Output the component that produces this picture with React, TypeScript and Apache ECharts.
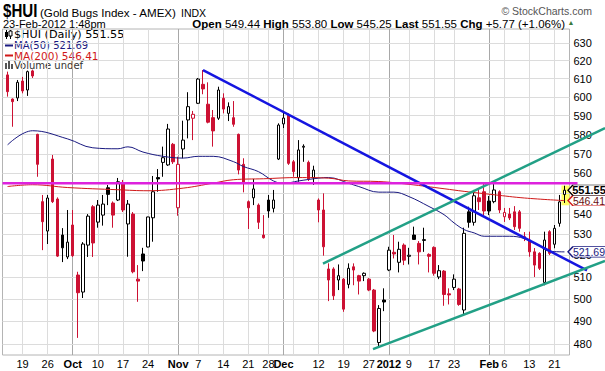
import { useEffect, useRef } from 'react';
import * as echarts from 'echarts';

// ---------- data ----------
const dates = [
  '9/14','9/15','9/16','9/19','9/20','9/21','9/22','9/23','9/26','9/27','9/28','9/29','9/30',
  '10/3','10/4','10/5','10/6','10/7','10/10','10/11','10/12','10/13','10/14','10/17','10/18','10/19','10/20','10/21','10/24','10/25','10/26','10/27','10/28','10/31',
  '11/1','11/2','11/3','11/4','11/7','11/8','11/9','11/10','11/11','11/14','11/15','11/16','11/17','11/18','11/21','11/22','11/23','11/25','11/28','11/29','11/30',
  '12/1','12/2','12/5','12/6','12/7','12/8','12/9','12/12','12/13','12/14','12/15','12/16','12/19','12/20','12/21','12/22','12/23','12/27','12/28','12/29','12/30',
  '1/3','1/4','1/5','1/6','1/9','1/10','1/11','1/12','1/13','1/17','1/18','1/19','1/20','1/23','1/24','1/25','1/26','1/27','1/30','1/31',
  '2/1','2/2','2/3','2/6','2/7','2/8','2/9','2/10','2/13','2/14','2/15','2/16','2/17','2/21','2/22','2/23'
];

const open = [
  612.1,598.9,599.5,608.7,603.8,614.3,580.1,545.9,531.6,567.3,547.2,529.7,519.3,
  534.5,510.9,503.1,524.9,543.4,535.9,539.3,552.8,545.2,546.7,555.0,535.0,539.8,509.0,520.7,524.0,538.0,557.9,565.6,564.3,574.9,
  542.9,572.5,587.7,588.6,596.6,606.9,596.1,588.9,588.6,599.3,591.2,588.9,580.1,564.6,545.9,547.8,544.2,529.7,546.7,542.6,567.3,
  585.6,590.3,565.9,557.8,573.4,565.6,557.8,546.7,541.8,513.7,513.7,508.6,509.0,506.6,514.7,510.6,510.6,509.0,504.0,480.7,499.5,
  513.2,521.5,516.8,524.9,519.6,529.7,525.7,527.1,520.5,523.8,510.0,512.7,502.3,505.2,504.5,495.0,540.9,535.8,547.8,550.8,
  546.2,545.9,550.8,538.5,539.8,540.9,540.9,528.9,527.3,521.7,521.0,507.5,531.3,525.3,535.3,549.44
];
const high = [
  613.9,599.2,609.3,611.0,614.5,615.0,580.4,549.2,549.2,569.4,548.0,533.0,541.8,
  541.8,512.4,526.3,539.8,544.2,546.7,549.2,554.2,546.0,557.7,556.7,546.7,540.8,515.5,523.6,538.5,558.7,562.2,573.7,585.6,575.6,
  568.5,587.3,602.6,592.5,610.4,614.8,608.0,593.0,605.6,602.0,597.1,597.8,580.5,567.7,546.5,557.2,545.0,539.3,549.2,551.7,585.9,
  591.4,591.2,566.8,577.1,574.9,566.5,563.9,547.5,550.0,516.3,514.5,515.8,509.5,516.3,516.3,511.0,512.1,509.5,504.5,497.2,504.8,
  524.1,529.7,526.5,525.7,523.6,533.7,526.8,533.2,521.0,524.3,515.5,513.2,504.8,511.2,505.0,533.2,543.4,551.7,551.7,555.0,
  548.7,555.5,551.5,542.8,542.8,543.7,541.8,531.1,531.3,523.5,521.5,531.3,532.0,534.5,549.2,553.80
];
const low = [
  600.2,584.1,597.8,602.0,600.6,610.4,558.3,522.5,525.4,545.2,519.3,516.9,518.3,
  519.3,482.7,500.4,519.3,519.3,533.2,534.2,544.2,533.2,546.2,540.8,519.4,511.7,498.7,512.7,523.8,526.5,550.8,558.3,563.8,564.8,
  539.0,567.7,578.0,577.1,596.2,601.5,585.9,573.7,587.7,591.2,587.1,584.1,559.5,550.5,532.6,544.2,532.6,528.0,538.0,540.6,566.8,
  583.4,564.3,558.3,555.8,565.9,556.2,554.2,535.8,519.9,499.0,499.5,504.0,494.2,504.8,506.2,502.0,508.1,503.5,485.2,478.7,494.5,
  512.7,518.6,512.1,515.5,515.8,527.4,515.8,521.7,512.1,510.6,509.0,496.9,497.5,504.0,496.9,492.4,533.2,534.2,541.8,539.3,
  539.3,545.1,540.3,536.0,536.9,532.1,531.3,526.8,519.4,510.0,513.2,506.2,520.2,523.4,533.7,545.25
];
const close = [
  602.9,597.5,608.0,603.3,613.9,611.5,564.6,536.1,547.7,545.9,519.7,523.6,526.3,
  519.9,502.8,525.4,538.8,525.9,544.2,544.7,549.5,539.3,555.8,541.8,544.7,512.4,508.1,517.4,538.4,550.8,557.2,568.0,582.9,565.9,
  564.6,577.1,594.8,590.7,609.8,604.4,586.5,581.9,603.8,593.5,594.8,585.4,561.7,555.0,542.9,552.2,535.8,528.4,541.3,546.7,585.0,
  588.7,565.1,560.9,572.0,573.9,557.2,561.7,541.8,524.1,508.6,501.4,510.6,495.4,514.0,513.2,508.1,511.7,504.0,485.7,495.7,498.6,
  522.5,520.7,522.9,517.8,520.1,527.6,521.7,527.5,519.6,511.7,512.9,502.0,501.8,509.0,497.5,530.5,535.8,548.8,545.9,541.3,
  541.3,551.7,541.8,540.6,537.9,533.7,532.9,528.1,521.7,515.5,514.0,527.3,521.0,532.9,545.78,551.55
];

// moving averages read at sampled sessions (index into dates)
const ma50Idx = [0,5,12,17,22,24,27,31,35,38,41,45,47,50,53,55,58,62,64,68,70,74,77,80,84,87,89,91,93,95,100,103,106,108,111];
const ma50Val = [574.6,582.0,577.7,573.1,572.6,573.6,570.9,568.7,567.8,568.7,568.7,566.0,563.5,560.9,556.2,555.0,556.2,557.6,557.9,555.0,553.4,550.6,550.6,548.4,543.5,539.5,535.5,532.3,530.7,529.1,529.1,528.0,524.5,522.0,521.69];
const ma200Idx = [0,5,12,22,28,35,41,45,51,58,64,68,74,80,87,91,97,103,111];
const ma200Val = [553.4,554.3,552.9,551.8,551.3,552.6,555.1,556.8,557.3,557.9,557.6,556.2,555.9,554.5,552.3,551.0,549.3,547.7,546.41];

// trendlines: [session index, price]
const blueLine = [[38.96, 614.8], [115.49, 513.0]];
const greenUpper = [[62.87, 516.2], [119.08, 583.4]];
const greenLower = [[72.84, 477.8], [119.08, 517.4]];
const resistance = [[-1, 555.0], [113.6, 555.0]];
const highlight = [[110.4, 553.9], [112.0, 544.1]];

const yTicks = [480, 490, 500, 510, 520, 530, 540, 550, 560, 570, 580, 590, 600, 610, 620, 630];
const yTicksCovered = [550]; // tick label hidden under the last-price tag
const gridDates = ['9/19','9/26','10/3','10/10','10/17','10/24','11/1','11/7','11/14','11/21','11/28','12/1','12/5','12/12','12/19','12/27','1/3','1/9','1/17','1/23','2/1','2/6','2/13','2/21'];
const gridTexts = ['19','26','Oct','10','17','24','Nov','7','14','21','28','Dec','','12','19','27','2012','9','17','23','Feb','6','13','21'];
const monthDates = ['10/3','11/1','12/1','1/3','2/1'];

const lastPrice = 551.55;
const lastMa50 = 521.69;
const lastMa200 = 546.41;
const quoteOpen = 549.44, quoteHigh = 553.80, quoteLow = 545.25, quoteChg = 5.77, quotePct = 1.06;

// ---------- layout ----------
const LEFT = 2.5, TOP = 29, PLOT_W = 567, PLOT_H = 326;
const Y_MIN = 475.3, Y_MAX = 638.0;
const N_CAT = dates.length + 2;
const STEP = PLOT_W / (N_CAT - 1);
const WIDE_W = 605 - LEFT;
const WIDE_MAX = -1 + WIDE_W / STEP;
const TAG_X = (587 - LEFT) / STEP - 1;

const RED = '#cc1133';
const BLACK = '#000000';
const NAVY = '#1a1a80';
const MA_RED = '#d01818';
const FONT = 'Liberation Sans, Arial, sans-serif';
const LFONT = 'DejaVu Sans, Verdana, sans-serif';

export default function App() {
  const ref = useRef<HTMLDivElement>(null);
  useEffect(() => {
    if (!ref.current) return;
    const chart = echarts.init(ref.current, undefined, { renderer: 'svg' });
    const categories = ['', ...dates, ' '];
    const tickMap: Record<string, string> = {};
    gridDates.forEach((d, k) => { tickMap[d] = gridTexts[k]; });
    const monthSet = new Set(monthDates);

    const candleData: any[] = [['-', '-', '-', '-']];
    dates.forEach((_, i) => {
      const prev = i > 0 ? close[i - 1] : open[i];
      const edge = close[i] >= prev ? BLACK : RED;
      const fill = close[i] > open[i] ? '#ffffff' : edge;
      candleData.push({
        value: [open[i], close[i], low[i], high[i]],
        itemStyle: { color: fill, color0: fill, borderColor: edge, borderColor0: edge, borderColorDoji: edge },
      });
    });
    candleData.push(['-', '-', '-', '-']);

    const tag = (v: number, border: string, color: string, bold: boolean) => ({
      coord: [TAG_X, v],
      value: v.toFixed(2),
      symbol: 'path://M0,5L6,0L46,0L46,10L6,10Z',
      symbolSize: [38, 10.5],
      symbolKeepAspect: false,
      itemStyle: { color: '#ffffff', borderColor: border, borderWidth: 1 },
      label: {
        show: true, position: 'inside', offset: [2, 0], color, lineHeight: 10,
        fontSize: bold ? 11 : 10.5, fontWeight: bold ? 'bold' : 'normal', fontFamily: FONT, formatter: () => v.toFixed(2),
      },
    });

    const option: any = {
      animation: false,
      backgroundColor: '#ffffff',
      grid: [
        { left: LEFT, top: TOP, width: PLOT_W, height: PLOT_H, show: true, borderColor: '#b4b4b4', borderWidth: 1, backgroundColor: 'transparent' },
        { left: LEFT, top: TOP, width: WIDE_W, height: PLOT_H, show: false },
      ],
      xAxis: [
        {
          type: 'category', gridIndex: 0, data: categories, boundaryGap: false,
          axisLine: { show: false }, axisTick: { show: false },
          axisLabel: {
            interval: (_: number, v: string) => tickMap[v] !== undefined && tickMap[v] !== '',
            formatter: (v: string) => (monthSet.has(v) ? '{b|' + tickMap[v] + '}' : tickMap[v]),
            color: '#000', fontSize: 11, fontFamily: FONT, margin: 3,
            rich: { b: { fontWeight: 'bold', fontSize: 11, fontFamily: FONT, color: '#000' } },
          },
          splitLine: { show: true, interval: (_: number, v: string) => tickMap[v] !== undefined, lineStyle: { color: '#dcdcdc', width: 1 } },
        },
        {
          type: 'category', gridIndex: 0, data: categories, boundaryGap: false, position: 'top',
          axisLine: { show: false }, axisTick: { show: false }, axisLabel: { show: false },
          splitLine: { show: true, interval: (_: number, v: string) => monthSet.has(v), lineStyle: { color: '#a8a8a8', width: 1 } },
        },
        { type: 'value', gridIndex: 1, min: -1, max: WIDE_MAX, show: false },
      ],
      yAxis: [
        { type: 'log', gridIndex: 0, min: Y_MIN, max: Y_MAX, position: 'right', axisLine: { show: false }, axisTick: { show: false }, axisLabel: { show: false }, splitLine: { show: false } },
        { type: 'log', gridIndex: 1, min: Y_MIN, max: Y_MAX, show: false },
      ],
      graphic: [
        { type: 'text', x: 3, y: 11.5, scaleX: 0.84, style: { text: '$HUI', fontFamily: FONT, fontWeight: 'bold', fontSize: 18, lineHeight: 13, fill: '#000', verticalAlign: 'middle' } },
        { type: 'text', x: 40, y: 12.5, style: { text: '(Gold Bugs Index - AMEX)', fontFamily: FONT, fontSize: 11.6, lineHeight: 10, fill: '#000', verticalAlign: 'middle' } },
        { type: 'text', x: 181, y: 13, style: { text: 'INDX', fontFamily: FONT, fontSize: 10.5, lineHeight: 9, fill: '#000', verticalAlign: 'middle' } },
        { type: 'text', x: 3, y: 23.5, style: { text: '23-Feb-2012 1:48pm', fontFamily: FONT, fontSize: 11, lineHeight: 9, fill: '#000', verticalAlign: 'middle' } },
        { type: 'text', x: 592, y: 11, style: { text: '© StockCharts.com', fontFamily: FONT, fontSize: 10.5, lineHeight: 10, fill: '#555', align: 'right', verticalAlign: 'middle' } },
        {
          type: 'text', x: 565, y: 23.5,
          style: {
            text: '{b|Open} ' + quoteOpen.toFixed(2) + ' {b|High} ' + quoteHigh.toFixed(2) + ' {b|Low} ' + quoteLow.toFixed(2) + ' {b|Last} ' + lastPrice.toFixed(2) + ' {b|Chg} +' + quoteChg.toFixed(2) + ' (+' + quotePct.toFixed(2) + '%)',
            fontFamily: FONT, fontSize: 11.5, lineHeight: 9, fill: '#000', align: 'right', verticalAlign: 'middle',
            rich: { b: { fontWeight: 'bold', fontFamily: FONT, fontSize: 11.5, lineHeight: 9, fill: '#000' } },
          },
        },
        { type: 'text', x: 571, y: 22.5, style: { text: '▲', fontSize: 7, lineHeight: 7, fill: '#3b7a3b', align: 'center', verticalAlign: 'middle' } },
        // legend
        { type: 'line', shape: { x1: 6.5, y1: 30, x2: 6.5, y2: 39 }, style: { stroke: '#000', lineWidth: 1 } },
        { type: 'rect', shape: { x: 5, y: 32, width: 3, height: 5 }, style: { fill: '#000' } },
        { type: 'line', shape: { x1: 10.5, y1: 30, x2: 10.5, y2: 39 }, style: { stroke: '#000', lineWidth: 1 } },
        { type: 'rect', shape: { x: 9, y: 31, width: 3, height: 5 }, style: { fill: '#fff', stroke: '#000', lineWidth: 1 } },
        { type: 'text', x: 14, y: 34.8, style: { text: '$HUI (Daily) ' + lastPrice.toFixed(2), fontFamily: LFONT, fontSize: 11.2, lineHeight: 10, fill: '#000', verticalAlign: 'middle' } },
        { type: 'line', shape: { x1: 5, y1: 45.5, x2: 13, y2: 45.5 }, style: { stroke: NAVY, lineWidth: 2 } },
        { type: 'text', x: 14, y: 45.5, style: { text: 'MA(50) ' + lastMa50.toFixed(2), fontFamily: LFONT, fontSize: 10, lineHeight: 9, fill: NAVY, verticalAlign: 'middle' } },
        { type: 'line', shape: { x1: 5, y1: 55.5, x2: 13, y2: 55.5 }, style: { stroke: MA_RED, lineWidth: 2 } },
        { type: 'text', x: 14, y: 55.5, style: { text: 'MA(200) ' + lastMa200.toFixed(2), fontFamily: LFONT, fontSize: 10.5, lineHeight: 9, fill: MA_RED, verticalAlign: 'middle' } },
        { type: 'rect', shape: { x: 5, y: 63, width: 2, height: 6 }, style: { fill: '#555' } },
        { type: 'rect', shape: { x: 8, y: 61, width: 2, height: 8 }, style: { fill: '#555' } },
        { type: 'rect', shape: { x: 11, y: 64, width: 2, height: 5 }, style: { fill: '#555' } },
        { type: 'text', x: 14, y: 65.5, style: { text: 'Volume undef', fontFamily: LFONT, fontSize: 10, lineHeight: 9, fill: '#333', verticalAlign: 'middle' } },
      ],
      series: [
        {
          type: 'candlestick', xAxisIndex: 0, yAxisIndex: 0, data: candleData, barWidth: 3, z: 3,
          itemStyle: { borderWidth: 1 },
          markLine: {
            z: 1, silent: true, symbol: ['none', 'none'], animation: false,
            lineStyle: { color: '#dcdcdc', width: 1, type: 'solid' },
            label: { show: true, position: 'end', distance: 4, color: '#000', fontSize: 11, fontFamily: FONT, formatter: (p: any) => String(p.value) },
            emphasis: { disabled: true },
            data: yTicks.map((v) => (yTicksCovered.includes(v) ? { yAxis: v, label: { show: false } } : { yAxis: v })),
          },
        },
        {
          type: 'line', xAxisIndex: 2, yAxisIndex: 1, data: ma50Idx.map((i, k) => [i, ma50Val[k]]), smooth: 0.4, symbol: 'none', z: 4,
          lineStyle: { color: NAVY, width: 1 },
        },
        {
          type: 'line', xAxisIndex: 2, yAxisIndex: 1, data: ma200Idx.map((i, k) => [i, ma200Val[k]]), smooth: 0.4, symbol: 'none', z: 4,
          lineStyle: { color: MA_RED, width: 1 },
        },
        { type: 'line', xAxisIndex: 2, yAxisIndex: 1, data: blueLine, symbol: 'none', z: 5, lineStyle: { color: '#1515e0', width: 2.5 } },
        { type: 'line', xAxisIndex: 2, yAxisIndex: 1, data: greenUpper, symbol: 'none', z: 5, lineStyle: { color: '#22a086', width: 2.5 } },
        { type: 'line', xAxisIndex: 2, yAxisIndex: 1, data: greenLower, symbol: 'none', z: 5, lineStyle: { color: '#22a086', width: 2.5 } },
        {
          type: 'line', xAxisIndex: 2, yAxisIndex: 1, data: resistance, symbol: 'none', z: 5, clip: false,
          lineStyle: { color: '#dd22dd', width: 2.5 },
          markArea: {
            z: 1, silent: true, itemStyle: { color: '#ffff66' },
            data: [[{ coord: highlight[0] }, { coord: highlight[1] }]],
          },
          markPoint: {
            z: 6, silent: true, animation: false,
            data: [tag(lastMa50, NAVY, NAVY, false), tag(lastMa200, MA_RED, '#6a1010', false), tag(lastPrice, '#000', '#000', true)],
          },
        },
      ],
    };
    chart.setOption(option);
    return () => chart.dispose();
  }, []);
  return <div ref={ref} style={{ position: 'fixed', left: 0, top: 0, width: 605, height: 371, background: '#fff' }} />;
}
